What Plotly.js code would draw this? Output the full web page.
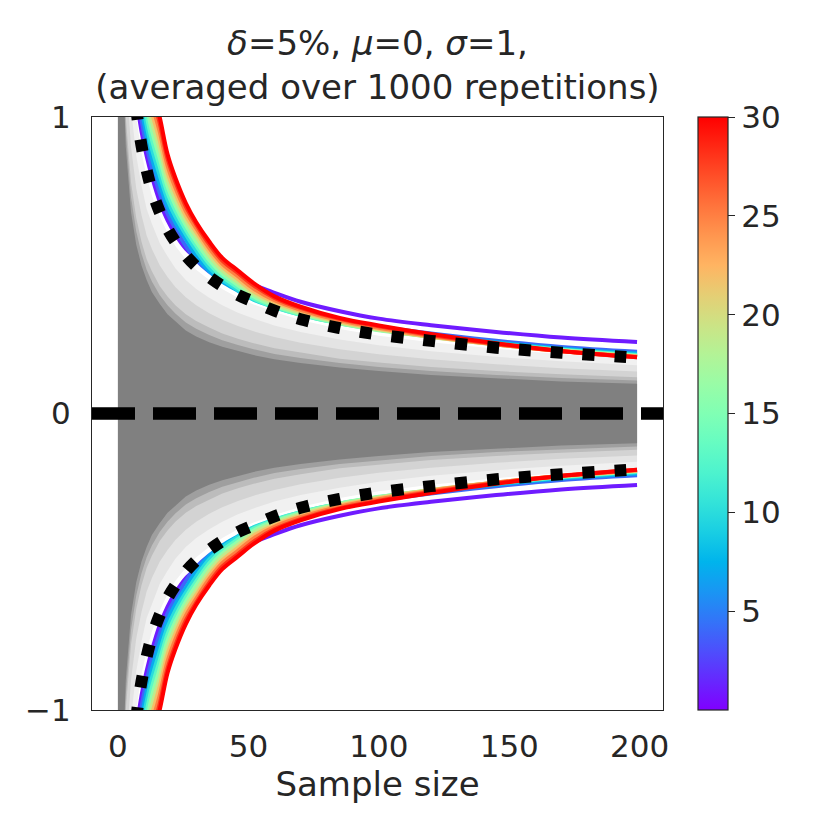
<!DOCTYPE html>
<html>
<head>
<meta charset="utf-8">
<script src="https://cdn.plot.ly/plotly-3.0.1.min.js"></script>
<style>
  html, body { margin: 0; padding: 0; background: #ffffff; }
  #chart { width: 830px; height: 830px; }
</style>
</head>
<body>
<div id="chart"></div>
<script>
// ── Data ─────────────────────────────────────────────────────
// sample sizes where the boundary curves were read
const sampleN = [3, 5, 7, 9, 11, 13, 16, 19, 22, 26, 30, 35, 40, 46, 52, 60, 70, 85, 100, 120, 145, 170, 199];

// upper boundary, one array per colour value (lower side is the mirror image)
const boundT1  = [1.65, 1.27, 1.075, 0.953, 0.868, 0.8, 0.715, 0.652, 0.605, 0.556, 0.524, 0.49, 0.469, 0.451, 0.434, 0.407, 0.377, 0.345, 0.32, 0.298, 0.275, 0.256, 0.241];
const boundT4  = [1.717, 1.323, 1.119, 0.992, 0.902, 0.831, 0.744, 0.675, 0.625, 0.565, 0.518, 0.478, 0.448, 0.42, 0.393, 0.37, 0.345, 0.313, 0.293, 0.27, 0.245, 0.224, 0.208];
const boundT7  = [1.785, 1.376, 1.163, 1.031, 0.937, 0.862, 0.774, 0.698, 0.644, 0.588, 0.532, 0.48, 0.445, 0.414, 0.385, 0.362, 0.337, 0.307, 0.287, 0.265, 0.24, 0.219, 0.202];
const boundT10 = [1.852, 1.428, 1.207, 1.07, 0.971, 0.893, 0.803, 0.721, 0.664, 0.604, 0.55, 0.492, 0.452, 0.416, 0.384, 0.358, 0.333, 0.304, 0.284, 0.262, 0.237, 0.216, 0.198];
const boundT13 = [1.919, 1.481, 1.251, 1.109, 1.005, 0.924, 0.833, 0.744, 0.684, 0.62, 0.566, 0.505, 0.462, 0.424, 0.388, 0.36, 0.333, 0.303, 0.282, 0.26, 0.235, 0.214, 0.196];
const boundT16 = [1.986, 1.534, 1.295, 1.148, 1.04, 0.955, 0.862, 0.767, 0.703, 0.636, 0.58, 0.518, 0.472, 0.433, 0.395, 0.364, 0.336, 0.304, 0.281, 0.259, 0.234, 0.213, 0.194];
const boundT19 = [2.054, 1.587, 1.339, 1.187, 1.074, 0.986, 0.892, 0.79, 0.723, 0.652, 0.597, 0.532, 0.483, 0.443, 0.403, 0.37, 0.34, 0.307, 0.283, 0.258, 0.233, 0.212, 0.193];
const boundT22 = [2.121, 1.639, 1.383, 1.226, 1.108, 1.017, 0.921, 0.813, 0.743, 0.667, 0.612, 0.546, 0.495, 0.453, 0.412, 0.376, 0.345, 0.31, 0.286, 0.259, 0.233, 0.211, 0.192];
const boundT25 = [2.188, 1.692, 1.427, 1.265, 1.143, 1.048, 0.951, 0.837, 0.762, 0.683, 0.625, 0.558, 0.505, 0.463, 0.421, 0.382, 0.35, 0.314, 0.289, 0.261, 0.233, 0.21, 0.191];
const boundT28 = [2.255, 1.745, 1.471, 1.304, 1.177, 1.079, 0.98, 0.86, 0.782, 0.699, 0.638, 0.571, 0.516, 0.474, 0.432, 0.39, 0.356, 0.319, 0.294, 0.265, 0.235, 0.21, 0.19];
const boundT30 = [2.3, 1.78, 1.5, 1.33, 1.2, 1.1, 1.0, 0.875, 0.795, 0.71, 0.645, 0.58, 0.525, 0.482, 0.44, 0.395, 0.36, 0.322, 0.297, 0.268, 0.237, 0.211, 0.19];

// black dotted reference bound (upper side)
const dottedBound = [1.57, 1.21, 1.03, 0.905, 0.82, 0.753, 0.68, 0.623, 0.58, 0.533, 0.496, 0.46, 0.43, 0.4, 0.377, 0.347, 0.318, 0.288, 0.266, 0.245, 0.222, 0.205, 0.188];

// spread of the 1000 gray sample paths (half-widths, from light outer to dark core)
const grayN     = [0, 1, 2, 3, 5, 7, 9, 11, 13, 16, 19, 22, 26, 30, 35, 40, 46, 52, 60, 70, 85, 100, 120, 145, 170, 199];
const grayOuter = [3, 3, 2.2, 1.6, 1.2, 1.0, 0.88, 0.8, 0.735, 0.665, 0.61, 0.565, 0.52, 0.485, 0.45, 0.42, 0.39, 0.368, 0.342, 0.315, 0.285, 0.262, 0.24, 0.218, 0.2, 0.185];
const grayWide  = [3, 3, 1.8, 1.33, 1.03, 0.87, 0.77, 0.69, 0.64, 0.575, 0.53, 0.49, 0.45, 0.42, 0.39, 0.365, 0.34, 0.32, 0.297, 0.275, 0.25, 0.23, 0.21, 0.191, 0.176, 0.163];
const grayMid   = [3, 3, 1.5, 1.15, 0.9, 0.76, 0.67, 0.6, 0.555, 0.5, 0.46, 0.427, 0.392, 0.365, 0.338, 0.316, 0.295, 0.277, 0.258, 0.239, 0.217, 0.2, 0.183, 0.166, 0.153, 0.142];
const grayInner = [3, 3, 1.3, 1.0, 0.78, 0.66, 0.58, 0.52, 0.48, 0.43, 0.395, 0.365, 0.335, 0.312, 0.29, 0.27, 0.252, 0.237, 0.22, 0.205, 0.185, 0.172, 0.157, 0.143, 0.132, 0.122];
const grayDeep  = [3, 3, 1.22, 0.95, 0.73, 0.615, 0.54, 0.485, 0.445, 0.4, 0.365, 0.337, 0.307, 0.286, 0.265, 0.247, 0.231, 0.217, 0.201, 0.187, 0.17, 0.157, 0.143, 0.13, 0.12, 0.111];
const grayCore  = [3, 3, 1.15, 0.9, 0.68, 0.57, 0.5, 0.45, 0.41, 0.37, 0.335, 0.31, 0.28, 0.26, 0.24, 0.225, 0.21, 0.197, 0.183, 0.17, 0.155, 0.143, 0.13, 0.118, 0.108, 0.1];

const zeroLevel = 0;
const colorTicks = [5, 10, 15, 20, 25, 30];

// ── Styling helpers ──────────────────────────────────────────
const TEXT = '#262626';
const FONT = 'DejaVu Sans, sans-serif';
const C_MIN = 0, C_MAX = 30;

// matplotlib "rainbow" colormap
function rainbow(x) {
    const clip = v => Math.max(0, Math.min(1, v));
    const r = clip(Math.abs(2 * x - 0.5));
    const g = clip(Math.sin(x * Math.PI));
    const b = clip(Math.cos(x * Math.PI / 2));
    return `rgb(${Math.round(r * 255)},${Math.round(g * 255)},${Math.round(b * 255)})`;
}
const rainbowScale = [];
for (let i = 0; i <= 20; i++) rainbowScale.push([i / 20, rainbow(i / 20)]);

// mirrored band: upper edge then lower edge, closed
function bandTrace(xs, half, color) {
    const xr = [...xs].reverse();
    const lowR = [...half].reverse().map(v => -v);
    return {
        x: xs.concat(xr),
        y: half.concat(lowR),
        type: 'scatter',
        mode: 'lines',
        fill: 'toself',
        fillcolor: color,
        line: { width: 0 },
        hoverinfo: 'skip',
        showlegend: false
    };
}

// upper and lower branch in one trace, split by a null
function mirroredLine(xs, vals, line) {
    return {
        x: xs.concat([null], xs),
        y: vals.concat([null], vals.map(v => -v)),
        type: 'scatter',
        mode: 'lines',
        line: line,
        hoverinfo: 'skip',
        showlegend: false
    };
}

const traces = [];

// gray sample paths
traces.push(bandTrace(grayN, grayOuter, '#f1f1f1'));
traces.push(bandTrace(grayN, grayWide, '#e4e4e4'));
traces.push(bandTrace(grayN, grayMid, '#d3d3d3'));
traces.push(bandTrace(grayN, grayInner, '#bcbcbc'));
traces.push(bandTrace(grayN, grayDeep, '#9f9f9f'));
traces.push(bandTrace(grayN, grayCore, '#808080'));

// coloured boundaries, purple first so red lands on top
const bounds = [
    [1, boundT1], [4, boundT4], [7, boundT7], [10, boundT10], [13, boundT13], [16, boundT16],
    [19, boundT19], [22, boundT22], [25, boundT25], [28, boundT28], [30, boundT30]
];
bounds.forEach(([t, vals]) => {
    traces.push(mirroredLine(sampleN, vals, {
        color: rainbow((t - C_MIN) / (C_MAX - C_MIN)),
        width: 4,
        shape: 'spline',
        smoothing: 1
    }));
});

// black dotted bound
traces.push(mirroredLine(sampleN, dottedBound, {
    color: '#000000',
    width: 12,
    dash: '12px,20px',
    shape: 'spline',
    smoothing: 1
}));

// invisible trace that only carries the colour bar
traces.push({
    x: [null],
    y: [null],
    type: 'scatter',
    mode: 'markers',
    marker: {
        color: [C_MIN],
        cmin: C_MIN,
        cmax: C_MAX,
        colorscale: rainbowScale,
        showscale: true,
        colorbar: {
            x: 1.061,
            xanchor: 'left',
            xpad: 0,
            ypad: 0,
            y: 0.5,
            len: 1,
            thickness: 30,
            outlinewidth: 1.2,
            outlinecolor: TEXT,
            tickvals: colorTicks,
            ticks: 'outside',
            ticklen: 7,
            tickwidth: 1.2,
            tickcolor: TEXT,
            tickfont: { size: 31, color: TEXT, family: FONT }
        }
    },
    hoverinfo: 'skip',
    showlegend: false
});

const layout = {
    width: 830,
    height: 830,
    margin: { l: 92, r: 167, t: 117, b: 120 },
    paper_bgcolor: '#ffffff',
    plot_bgcolor: '#ffffff',
    font: { family: FONT, color: TEXT, size: 31 },
    showlegend: false,
    title: {
        text: '<i>δ</i>=5%, <i>μ</i>=0, <i>σ</i>=1,<br>(averaged over 1000 repetitions)',
        font: { size: 34, color: TEXT, family: FONT },
        x: 0.4548,
        xref: 'container',
        xanchor: 'center',
        y: 0.934,
        yref: 'container',
        yanchor: 'top'
    },
    xaxis: {
        range: [-9.95, 208.95],
        tickvals: [0, 50, 100, 150, 200],
        ticks: '',
        ticklabelstandoff: 9,
        tickfont: { size: 31, color: TEXT },
        showgrid: false,
        zeroline: false,
        showline: true,
        mirror: true,
        linecolor: TEXT,
        linewidth: 1.2,
        title: { text: 'Sample size', font: { size: 34, color: TEXT }, standoff: 6 }
    },
    yaxis: {
        range: [-1, 1],
        tickvals: [-1, 0, 1],
        ticktext: ['\u22121', '0', '1'],
        ticks: '',
        ticklabelstandoff: 14,
        tickfont: { size: 31, color: TEXT },
        showgrid: false,
        zeroline: false,
        showline: true,
        mirror: true,
        linecolor: TEXT,
        linewidth: 1.2
    },
    shapes: [{
        type: 'line',
        xref: 'paper', x0: 0, x1: 1,
        yref: 'y', y0: zeroLevel, y1: zeroLevel,
        line: { color: '#000000', width: 12.5, dash: '43px,18px' },
        layer: 'above'
    }]
};

Plotly.newPlot('chart', traces, layout, { displayModeBar: false, responsive: false });
</script>
</body>
</html>
